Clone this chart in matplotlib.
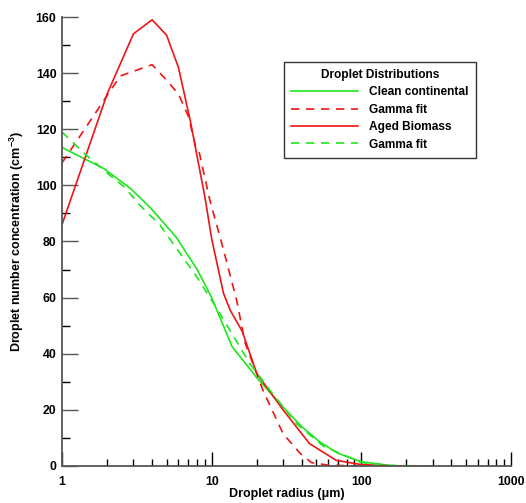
import matplotlib
matplotlib.use("Agg")
import matplotlib.pyplot as plt
from matplotlib.ticker import FixedLocator, NullFormatter

# ==========================================================
# DATA
# ==========================================================

r_clean = [1, 1.9, 2.85, 3.9, 5.8, 8, 10, 13.7, 20, 30, 40, 53, 70, 100, 150]
clean = [113.5, 106, 99, 92, 81.5, 70, 60, 42.5, 31.5, 21, 14, 8.5, 4.5, 1.5, 0.3]

r_clean_fit = [1, 1.4, 2.1, 2.6, 3.3, 4.5, 6.1, 7.7, 10.3, 13.2, 18, 24.5, 37, 56, 100, 150, 200, 300]
clean_fit = [119, 111.5, 103.5, 99.5, 93, 86, 76, 68.5, 58, 48.5, 36.5, 27, 15, 7, 1.2, 0.3, 0.1, 0]

r_aged = [1, 2, 3, 4, 5, 6, 7.2, 9, 10, 12, 13.3, 16, 20, 30, 45, 68, 100, 150]
aged = [86, 132.5, 154, 159, 153.5, 142, 123, 96, 81, 61.5, 55.5, 48, 33, 20, 8, 2, 0.5, 0.1]

r_aged_fit = [1, 1.5, 2, 2.45, 4, 5, 6, 7, 7.8, 8.2, 9.7, 12, 14.7, 16.7, 22, 30, 39, 46.5, 60, 80, 150, 300]
aged_fit = [108, 122, 132, 139, 143, 137.5, 132.5, 124.5, 114, 112.5, 95, 77, 59, 44, 27, 11.5, 4.5, 1.2, 0.3, 0.1, 0, 0]

# ==========================================================
# PLOT
# ==========================================================

plt.rcParams.update({
    "font.family": ["Liberation Sans", "DejaVu Sans"],
    "font.weight": "bold",
    "font.size": 8.8,
    "mathtext.fontset": "custom",
    "mathtext.rm": "Liberation Sans:bold",
    "mathtext.bf": "Liberation Sans:bold",
    "mathtext.default": "bf",
})

GREEN = "#1EE61E"
RED = "#F01414"

fig = plt.figure(figsize=(5.26, 5.03), dpi=100)
ax = fig.add_axes([0.1179, 0.0736, 0.8535, 0.8926])

ax.plot(r_clean, clean, color=GREEN, lw=1.2, label="Clean continental")
ax.plot(r_aged_fit, aged_fit, color=RED, lw=1.2, ls=(0, (5, 4)), label="Gamma fit")
ax.plot(r_aged, aged, color=RED, lw=1.2, label="Aged Biomass")
ax.plot(r_clean_fit, clean_fit, color=GREEN, lw=1.2, ls=(0, (5, 4)), label="Gamma fit")

# ==========================================================
# FORMAT
# ==========================================================

ax.set_xscale("log")
ax.set_xlim(1, 1000)
ax.set_ylim(0, 160)

ax.set_xticks([1, 10, 100, 1000])
ax.set_xticklabels(["1", "10", "100", "1000"])
ax.xaxis.set_minor_locator(FixedLocator(
    [m * d for d in (1, 10, 100) for m in range(2, 10)]))
ax.xaxis.set_minor_formatter(NullFormatter())

ax.set_yticks(range(0, 161, 20))
ax.yaxis.set_minor_locator(FixedLocator(range(10, 160, 20)))

for s in ["top", "right"]:
    ax.spines[s].set_visible(False)
for s in ["left", "bottom"]:
    ax.spines[s].set_color("#555555")
    ax.spines[s].set_linewidth(1.3)

ax.tick_params(axis="x", which="major", direction="in", length=10, width=1, color="black", pad=7)
ax.tick_params(axis="x", which="minor", direction="in", length=5, width=1, color="black")
ax.tick_params(axis="y", which="major", direction="in", length=11.5, width=1, color="#555555", pad=4)
ax.tick_params(axis="y", which="minor", direction="in", length=5.5, width=1, color="black")

ax.set_xlabel("Droplet radius (\u03bcm)", fontsize=9, fontweight="bold", labelpad=0.5)
ax.set_ylabel("Droplet number concentration (cm$^{-3}$)", fontsize=9,
              fontweight="bold", labelpad=7)

leg = ax.legend(title="Droplet Distributions", loc="upper left",
                bbox_to_anchor=(0.495, 0.9), fontsize=8.6, title_fontsize=8.6,
                frameon=True, fancybox=False, handlelength=5.6, handletextpad=0.9,
                labelspacing=0.45, borderpad=0.6, borderaxespad=0)
leg.get_frame().set_edgecolor("black")
leg.get_frame().set_linewidth(1)
leg.get_title().set_fontweight("bold")
for t in leg.get_texts():
    t.set_fontweight("bold")

plt.savefig("out.png", dpi=100)
